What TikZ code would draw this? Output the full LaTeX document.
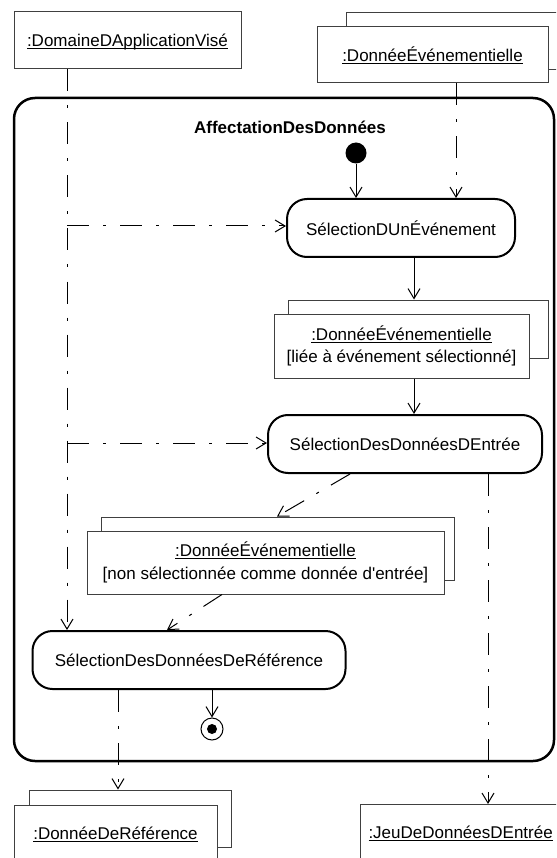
\documentclass[tikz,border=0pt]{standalone}
\usepackage{fontspec}
\setmainfont{Liberation Sans}[Ligatures=TeXOff]
\usetikzlibrary{arrows.meta}
\newcommand\objname[1]{\underline{\smash{#1}\vphantom{É}}}
\tikzset{
  every node/.style={font=\fontsize{17}{22.5}\selectfont, inner sep=0pt},
  objbox/.style={draw=black!75, line width=1pt, fill=white, rectangle},
  actnode/.style={draw=black, line width=2pt, rounded corners=20pt, fill=white, rectangle},
  framebox/.style={draw=black, line width=2.5pt, rounded corners=21pt, rectangle},
  flow/.style={draw=black, line width=1pt, -{Straight Barb[length=10pt,width=12pt]}},
  dep/.style={flow, dash pattern=on 22pt off 14pt on 3pt off 14pt},
}
\begin{document}
\begin{tikzpicture}[x=1pt, y=-1pt]
\useasboundingbox (0,0) rectangle (556,858);
\clip (0,0) rectangle (556,858);
\fill[white] (0,0) rectangle (556,858);

% frame
\node[framebox, minimum width=540pt, minimum height=663pt] (frame) at (284,429.5) {};
\node[font=\fontsize{17}{22.5}\selectfont\bfseries] (title) at (290,127) {AffectationDesDonnées};

% object nodes (back boxes first)
\node[objbox, minimum width=227pt, minimum height=57pt] (domObj) at (127.5,40.5) {\objname{:DomaineDApplicationVisé}};
\node[objbox, anchor=north west, minimum width=254pt, minimum height=57pt] (topBack) at (346,12) {};
\node[objbox, minimum width=231pt, minimum height=56pt] (topObj) at (432.5,55) {\objname{:DonnéeÉvénementielle}};

\node[objbox, minimum width=260pt, minimum height=58pt] (obj2Back) at (418,329) {};
\node[objbox, minimum width=255pt, minimum height=64pt, align=center] (obj2) at (401.5,346) {\objname{:DonnéeÉvénementielle}\\{}[liée à événement sélectionné]};

\node[objbox, minimum width=353pt, minimum height=63pt] (obj3Back) at (277.5,548.5) {};
\node[objbox, minimum width=357pt, minimum height=63pt, align=center] (obj3) at (265.5,562.5) {\objname{:DonnéeÉvénementielle}\\{}[non sélectionnée comme donnée d'entrée]};

\node[objbox, minimum width=202pt, minimum height=57pt] (refBack) at (130,818.5) {};
\node[objbox, minimum width=203pt, minimum height=56pt] (refObj) at (115.5,833) {\objname{:DonnéeDeRéférence}};

\node[objbox, anchor=north west, minimum width=240pt, minimum height=56pt, text width=224pt, inner xsep=8pt, align=left] (jeuObj) at (360,804) {\objname{:JeuDeDonnéesDEntrée}};

% activity nodes
\node[circle, fill=black, minimum size=21pt] (init) at (356,153) {};
\node[actnode, minimum width=228pt, minimum height=58pt] (selEv) at (401,228) {SélectionDUnÉvénement};
\node[actnode, minimum width=274pt, minimum height=58pt] (selIn) at (405,444) {SélectionDesDonnéesDEntrée};
\node[actnode, minimum width=313pt, minimum height=58pt] (selRef) at (189,660) {SélectionDesDonnéesDeRéférence};
\node[circle, draw=black, line width=1pt, fill=white, minimum size=22pt,
      path picture={\fill[black] (path picture bounding box.center) circle (5pt);}] (final) at (212,729) {};

% helper coordinates for x positions
\coordinate (x66) at (67,0);
\coordinate (x456) at (456,0);
\coordinate (x414) at (414,0);
\coordinate (x350) at (350,0);
\coordinate (x277) at (277,0);
\coordinate (x222) at (222,0);
\coordinate (x167) at (167,0);
\coordinate (x118) at (118,0);
\coordinate (x488) at (488,0);
\coordinate (b1) at (67,226);
\coordinate (b2) at (67,443);

% connectors
\draw[flow] (init) -- (init |- selEv.north);
\draw[dep] (topObj.south -| x456) -- (selEv.north -| x456);
\draw[dep] (domObj.south -| x66) -- (selRef.north -| x66);
\draw[dep] (b1) -- (b1 -| selEv.west);
\draw[dep] (b2) -- (b2 -| selIn.west);
\draw[flow] (selEv.south -| x414) -- (obj2Back.north -| x414);
\draw[flow] (obj2.south -| x414) -- (selIn.north -| x414);
\draw[dep] (selIn.south -| x350) -- (obj3Back.north -| x277);
\draw[dep] (obj3.south -| x222) -- (selRef.north -| x167);
\draw[flow] (selRef.south -| final) -- (final.north);
\draw[dep] (selRef.south -| x118) -- (refBack.north -| x118);
\draw[dep] (selIn.south -| x488) -- (jeuObj.north -| x488);
\end{tikzpicture}
\end{document}
